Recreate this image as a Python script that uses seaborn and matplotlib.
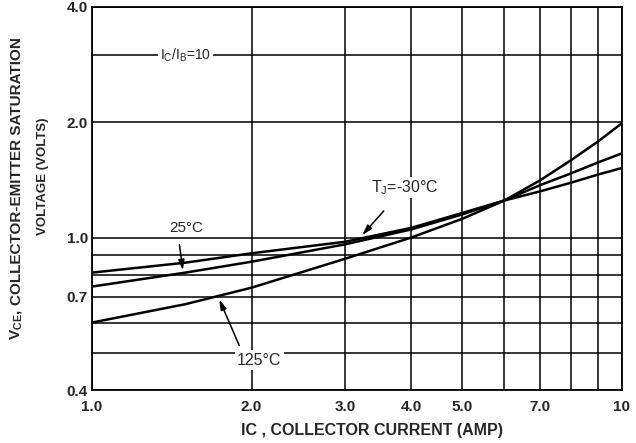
import numpy as np
import pandas as pd
import seaborn as sns
import matplotlib.pyplot as plt
from matplotlib.ticker import NullFormatter

ic = [1.0, 1.5, 2.0, 3.0, 4.0, 5.0, 6.0, 7.0, 8.0, 9.0, 10.0]

# V_CE(sat) in volts for each junction temperature
vce_m30 = [0.81, 0.86, 0.91, 0.975, 1.06, 1.16, 1.25, 1.32, 1.39, 1.46, 1.52]
vce_25 = [0.745, 0.81, 0.865, 0.96, 1.05, 1.15, 1.25, 1.37, 1.47, 1.57, 1.66]
vce_125 = [0.60, 0.67, 0.74, 0.88, 1.00, 1.12, 1.25, 1.41, 1.59, 1.78, 1.99]

temps = ['-30', '25', '125']

x_major = [1, 2, 3, 4, 5, 7, 10]
x_major_labels = ['1.0', '2.0', '3.0', '4.0', '5.0', '7.0', '10']
x_minor = [6, 8, 9]
y_major = [0.4, 0.7, 1.0, 2.0, 4.0]
y_major_labels = ['0.4', '0.7', '1.0', '2.0', '4.0']
y_minor = [0.5, 0.6, 0.8, 0.9, 3.0]

df = pd.DataFrame({
    'ic': ic * 3,
    'vce': vce_m30 + vce_25 + vce_125,
    'temp': [t for t in temps for _ in ic],
})

sns.set_style('white')
plt.rcParams['font.family'] = ['Liberation Sans', 'DejaVu Sans']

fig = plt.figure(figsize=(6.36, 4.43), dpi=100)
ax = fig.add_axes([92 / 636, 53 / 443, 530 / 636, 383 / 443])

sns.lineplot(data=df, x='ic', y='vce', hue='temp', palette=['black'] * 3,
             legend=False, linewidth=1.8, ax=ax, zorder=4)

ax.set_xscale('log')
ax.set_yscale('log')
ax.set_xlim(1, 10)
ax.set_ylim(0.4, 4.0)

ax.set_xticks(x_major)
ax.set_xticklabels(x_major_labels)
ax.set_xticks(x_minor, minor=True)
ax.set_yticks(y_major)
ax.set_yticklabels(y_major_labels)
ax.set_yticks(y_minor, minor=True)
ax.xaxis.set_minor_formatter(NullFormatter())
ax.yaxis.set_minor_formatter(NullFormatter())
ax.tick_params(which='both', length=0)
ax.tick_params(axis='x', pad=7)
ax.tick_params(axis='y', pad=3)
for lab in ax.get_xticklabels() + ax.get_yticklabels():
    lab.set_fontweight('bold')
    lab.set_fontsize(11)

ax.grid(which='both', color='black', linewidth=1.1)
for sp in ax.spines.values():
    sp.set_color('black')
    sp.set_linewidth(1.3)
ax.set_xlabel('')
ax.set_ylabel('')

# annotations
ax.text(1.50, 3.0, r'I$_\mathregular{C}$/I$_\mathregular{B}$=10', ha='center', va='center',
        fontsize=10, bbox=dict(fc='white', ec='none', pad=1.5), zorder=5)
ax.text(3.89, 1.35, r'T$_\mathregular{J}$=-30°C', ha='center', va='center',
        fontsize=11.5, bbox=dict(fc='white', ec='none', pad=1), zorder=5)
ax.text(1.505, 1.06, '25°C', ha='center', va='center', fontsize=11, zorder=5)
ax.text(2.07, 0.479, '125°C', ha='center', va='center', fontsize=11.5,
        bbox=dict(fc='white', ec='none', pad=1.5), zorder=5)

arrow = dict(arrowstyle='-|>,head_length=0.6,head_width=0.18', color='black', lw=1.1)
ax.annotate('', xy=(3.21, 1.003), xytext=(3.58, 1.188), arrowprops=arrow, zorder=6)
ax.annotate('', xy=(1.486, 0.808), xytext=(1.46, 0.974), arrowprops=arrow, zorder=6)
ax.annotate('', xy=(1.73, 0.70), xytext=(1.905, 0.515), arrowprops=arrow, zorder=6)

fig.text(372 / 636, 1 - 430 / 443, 'IC , COLLECTOR CURRENT (AMP)', ha='center', va='center',
         fontsize=11.5, fontweight='bold')

# y label, first line in two pieces so the hyphen stays a plain hyphen
t1 = fig.text(17 / 636, 1 - 340 / 443, r'V$_\mathregular{CE}$,', rotation=90,
              ha='center', va='bottom', fontsize=11, fontweight='bold')
fig.canvas.draw()
bb = t1.get_window_extent()
fig.text(17 / 636, (bb.y1 + 4) / 443, 'COLLECTOR-EMITTER SATURATION', rotation=90,
         ha='center', va='bottom', fontsize=11, fontweight='bold')
fig.text(43 / 636, 1 - 176 / 443, 'VOLTAGE (VOLTS)', rotation=90, ha='center', va='center',
         fontsize=9.5, fontweight='bold')

fig.savefig('out.png', dpi=100)
